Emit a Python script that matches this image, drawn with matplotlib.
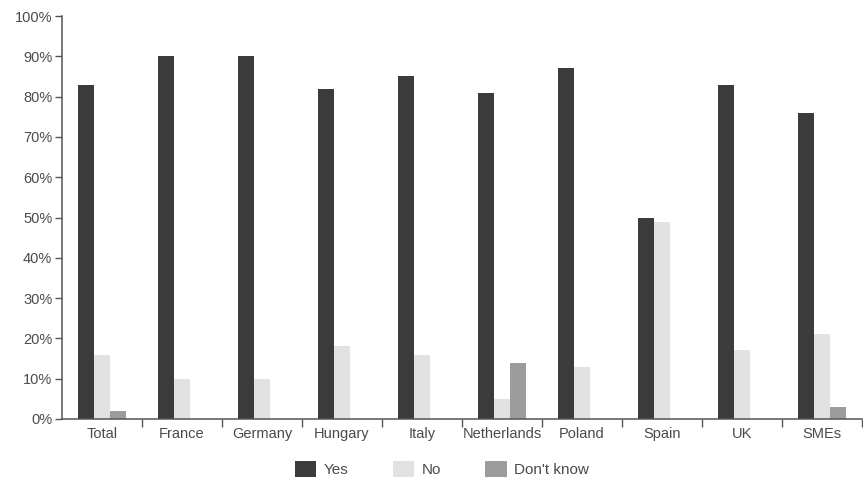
import numpy as np
import matplotlib
matplotlib.use('agg')
from matplotlib import pyplot as plt
from matplotlib.patches import Patch
from matplotlib.ticker import FixedLocator, PercentFormatter

categories = ['Total', 'France', 'Germany', 'Hungary', 'Italy', 'Netherlands',
              'Poland', 'Spain', 'UK', 'SMEs']
yes = [83, 90, 90, 82, 85, 81, 87, 50, 83, 76]
no = [16, 10, 10, 18, 16, 5, 13, 49, 17, 21]
dont_know = [2, 0, 0, 0, 0, 14, 0, 0, 0, 3]

series = [('Yes', yes, '#3b3b3b'), ('No', no, '#e2e2e2'), ("Don't know", dont_know, '#9c9c9c')]

plt.rcParams['font.family'] = ['Liberation Sans', 'DejaVu Sans']
text_col = '#4a4a4a'

fig = plt.figure(figsize=(8.63, 4.83), dpi=100)
ax = fig.add_axes([62 / 863, 64 / 483, 800 / 863, 403 / 483])

x = np.arange(len(categories)) + 0.5
w = 0.2
for i, (name, vals, col) in enumerate(series):
    ax.bar(x + (i - 1) * w, vals, width=w, color=col, label=name)

ax.set_xlim(0, len(categories))
ax.set_ylim(0, 100)
ax.set_yticks(np.arange(0, 101, 10))
ax.yaxis.set_major_formatter(PercentFormatter(decimals=0))
ax.set_xticks(x)
ax.set_xticklabels(categories)
ax.xaxis.set_minor_locator(FixedLocator(np.arange(1, len(categories) + 1)))

for s in ['top', 'right']:
    ax.spines[s].set_visible(False)
for s in ['left', 'bottom']:
    ax.spines[s].set_color('#555555')
    ax.spines[s].set_linewidth(1.1)

ax.tick_params(axis='y', direction='out', length=5, width=1, color='#555555',
               labelsize=10.5, labelcolor=text_col, pad=2)
ax.tick_params(axis='x', which='major', length=0, labelsize=10.5, labelcolor=text_col, pad=6)
ax.tick_params(axis='x', which='minor', direction='out', length=6, width=1, color='#555555')

handles = [Patch(facecolor=c, label=n) for n, _, c in series]
fig.legend(handles=handles, loc='center', bbox_to_anchor=(0.512, 14 / 483), ncol=3,
           frameon=False, fontsize=11, handlelength=1.4, handleheight=1.3,
           columnspacing=2.9, handletextpad=0.5, labelcolor=text_col,
           borderpad=0, borderaxespad=0)

fig.savefig('out.png', dpi=100)
